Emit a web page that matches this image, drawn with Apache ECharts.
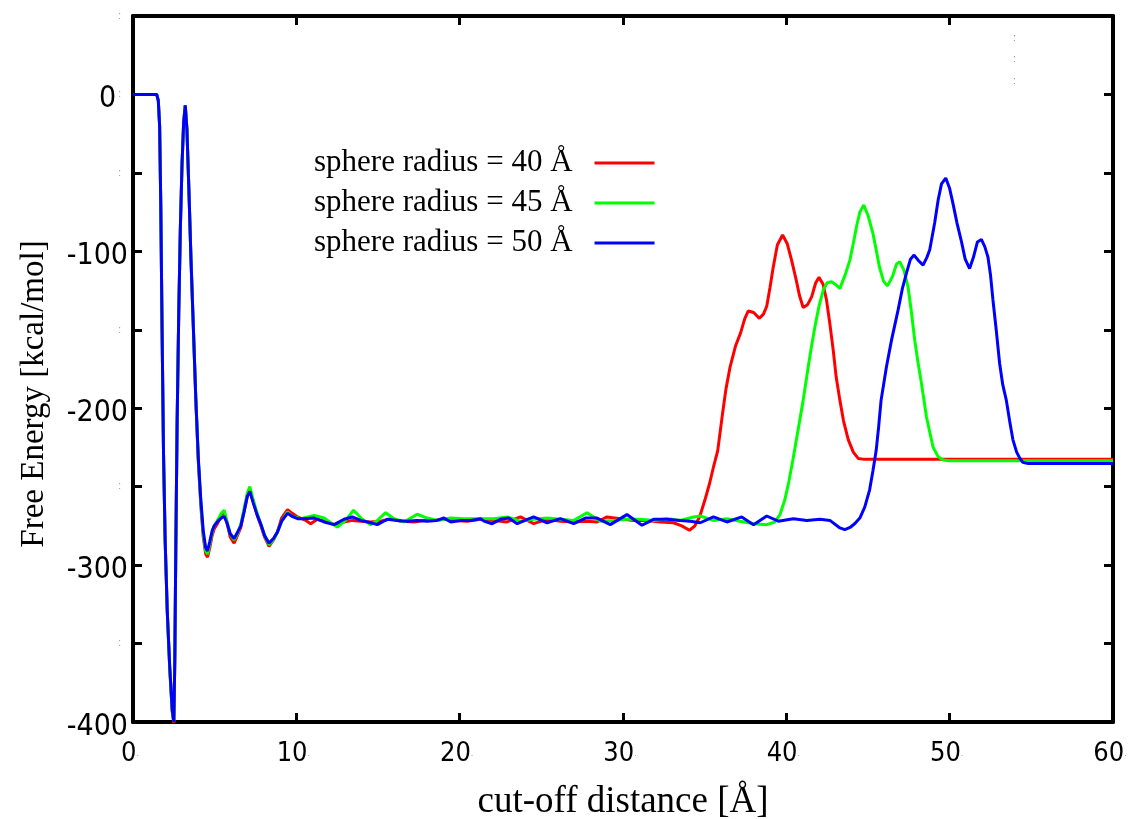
<!DOCTYPE html>
<html><head><meta charset="utf-8">
<script src="https://cdn.jsdelivr.net/npm/echarts@6/dist/echarts.min.js"></script>
<style>html,body{margin:0;padding:0;background:#fff}#c{width:1133px;height:819px}</style>
</head><body><div id="c"></div>
<script>
const seriesNames = ['sphere radius = 40 Å', 'sphere radius = 45 Å', 'sphere radius = 50 Å'];
const seriesColors = ['#ff0000', '#00ff00', '#0000ff'];
const xTickLabels = ['0', '10', '20', '30', '40', '50', '60'];
const yTickLabels = ['0', '-100', '-200', '-300', '-400'];

const red40 = [
  [0,0],[1.45,0],[1.55,-4],[1.63,-20],[1.7,-70],[1.78,-150],[1.87,-230],[1.97,-285],[2.1,-330],[2.25,-366],[2.4,-393],[2.5,-401],
  [2.56,-360],[2.62,-290],[2.7,-210],[2.8,-140],[2.9,-85],[3.0,-45],[3.1,-18],[3.2,-7],[3.3,-22],[3.42,-60],[3.55,-105],[3.7,-150],
  [3.85,-196],[4.0,-234],[4.15,-262],[4.3,-282],[4.45,-293],[4.56,-295],[4.7,-289],[4.85,-281],[4.97,-277],[5.2,-273],[5.4,-268],
  [5.58,-266],[5.75,-273],[5.95,-282],[6.19,-286],[6.4,-281],[6.6,-276],[6.8,-266],[7.0,-256],[7.15,-252],[7.35,-259],[7.6,-268],
  [7.83,-275],[8.05,-282],[8.33,-288],[8.6,-284],[8.84,-279],[9.1,-270],[9.46,-264.7],[9.75,-267],[10.07,-269.3],[10.58,-271.5],
  [10.88,-273.6],[11.29,-270.8],[11.9,-272.5],[12.41,-274.6],[12.92,-272.5],[13.43,-271.5],[13.94,-272],[14.55,-272.5],[15.16,-272],
  [15.78,-270.4],[16.39,-272],[17.2,-272.5],[17.81,-271.5],[18.43,-271.5],[19.04,-270.8],[19.65,-271.5],[20.46,-272],[21.28,-270.8],
  [22.1,-271.5],[22.9,-272.5],[23.72,-269.3],[24.53,-273.6],[25.35,-270.8],[26.17,-272],[26.98,-272.5],[27.8,-272],[28.41,-272.5],
  [29.02,-269.3],[29.83,-270.4],[30.65,-271.5],[31.46,-271.5],[32.28,-272.5],[33.09,-273],[33.6,-275],[34.07,-277.8],[34.4,-275],
  [34.7,-269],[35.0,-259],[35.3,-248],[35.55,-237],[35.8,-227],[36.1,-203],[36.3,-188],[36.55,-174],[36.9,-160],[37.2,-152],
  [37.45,-143],[37.67,-138],[38.0,-139],[38.35,-142.7],[38.6,-140],[38.8,-135],[39.0,-123],[39.2,-110],[39.45,-96],[39.77,-89.6],
  [40.05,-95],[40.32,-105.6],[40.6,-118],[40.8,-128],[41.03,-135.8],[41.3,-134],[41.55,-129],[41.8,-120],[42.0,-116.6],[42.25,-121],
  [42.46,-131],[42.65,-145],[42.87,-163],[43.05,-180],[43.28,-195],[43.5,-208],[43.79,-220],[44.1,-228],[44.4,-232],[44.8,-232.6],
  [60,-232.6]
];

const green45 = [
  [0,0],[1.45,0],[1.55,-4],[1.63,-20],[1.7,-70],[1.78,-150],[1.87,-230],[1.97,-285],[2.1,-330],[2.25,-366],[2.4,-393],[2.5,-400],
  [2.56,-360],[2.62,-290],[2.7,-210],[2.8,-140],[2.9,-85],[3.0,-45],[3.1,-18],[3.2,-7],[3.3,-22],[3.42,-60],[3.55,-105],[3.7,-150],
  [3.85,-195],[4.0,-233],[4.15,-260],[4.3,-280],[4.45,-291],[4.56,-293],[4.7,-287],[4.85,-279],[4.97,-275],[5.2,-271],[5.4,-267],
  [5.58,-265],[5.75,-272],[5.95,-280],[6.19,-284],[6.4,-280],[6.6,-274],[6.8,-264],[7.0,-254],[7.15,-250],[7.35,-258],[7.6,-267],
  [7.83,-274],[8.05,-281],[8.33,-287],[8.6,-284],[8.84,-279],[9.1,-272],[9.46,-266],[9.75,-269],[10.27,-270.4],[11.09,-268.3],
  [11.7,-270],[12.1,-273],[12.51,-275.7],[13.02,-271.5],[13.5,-265],[14.04,-270.8],[14.55,-274.2],[14.96,-271.5],[15.47,-266.6],
  [15.98,-270.4],[16.59,-272.5],[17.4,-267.6],[18.02,-270],[18.63,-271.5],[19.45,-270],[20.26,-270.4],[21.07,-270.4],[22.1,-270.4],
  [22.9,-269.3],[23.72,-272],[24.53,-270.8],[25.35,-270],[26.17,-270.8],[26.98,-271.5],[27.8,-266.6],[28.61,-272],[29.43,-271.5],
  [30.24,-270.8],[31.06,-270.8],[31.87,-271.5],[32.69,-270.4],[33.5,-271.5],[34.32,-269.3],[34.73,-268.7],[35.54,-271.5],
  [36.36,-270.4],[37.17,-272],[37.99,-273.6],[38.8,-274.2],[39.3,-272.5],[39.6,-268],[39.9,-258.7],[40.15,-247],[40.4,-233],
  [40.7,-215],[41.03,-195],[41.34,-173.6],[41.55,-160],[41.75,-148],[42.0,-135],[42.26,-124.7],[42.5,-120],[42.77,-119.4],
  [43.0,-121],[43.28,-123.6],[43.6,-115],[43.89,-105.6],[44.1,-95],[44.3,-84],[44.5,-75],[44.74,-70.5],[45.0,-77],[45.3,-88.5],
  [45.5,-99],[45.7,-110],[45.95,-119],[46.19,-122],[46.5,-116],[46.75,-108],[46.94,-106.6],[47.2,-112],[47.45,-122.6],[47.65,-138],
  [47.86,-156.6],[48.05,-170],[48.27,-184],[48.58,-205.6],[48.98,-224.7],[49.3,-231],[49.6,-233],[50.0,-233.5],[60,-233.5]
];

const blue50 = [
  [0,0],[1.45,0],[1.55,-4],[1.63,-20],[1.7,-70],[1.78,-150],[1.87,-230],[1.97,-285],[2.1,-330],[2.25,-365],[2.4,-392],[2.5,-400],
  [2.56,-360],[2.62,-290],[2.7,-210],[2.8,-140],[2.9,-85],[3.0,-45],[3.1,-18],[3.2,-7],[3.3,-22],[3.42,-60],[3.55,-105],[3.7,-150],
  [3.85,-195],[4.0,-232],[4.15,-258],[4.3,-278],[4.45,-289],[4.56,-291],[4.7,-285],[4.85,-278],[4.97,-275],[5.2,-272],[5.4,-270],
  [5.58,-269],[5.75,-273],[5.95,-280],[6.19,-283],[6.4,-279],[6.6,-275],[6.8,-266],[7.0,-256],[7.15,-253],[7.35,-260],[7.6,-268],
  [7.83,-274],[8.05,-281],[8.33,-286],[8.6,-283],[8.84,-279],[9.1,-272],[9.46,-267],[9.75,-269],[10.07,-270.4],[10.48,-270.4],
  [11.09,-270],[11.7,-272.5],[12.31,-274.2],[12.92,-270.8],[13.43,-269.3],[13.94,-271.5],[14.55,-273],[14.96,-274.2],[15.57,-270.8],
  [16.18,-271.5],[16.8,-272.1],[17.4,-271.5],[18.0,-272.1],[18.6,-271.5],[19.04,-270],[19.45,-272.5],[20.06,-271.5],[20.67,-271.5],
  [21.28,-270.4],[21.48,-272],[21.99,-273.6],[22.5,-270.8],[23.01,-270],[23.52,-273.6],[24.0,-271.5],[24.53,-269.3],[25.35,-273],
  [26.17,-270.4],[26.98,-273.6],[27.7,-270],[28.41,-270],[29.22,-274.2],[30.24,-267.8],[31.16,-274.6],[31.87,-270.8],[32.69,-270.8],
  [33.5,-271.5],[34.11,-272],[34.73,-273],[35.54,-269.3],[36.36,-272.5],[37.27,-269.3],[37.99,-274.2],[38.8,-268.7],[39.51,-272],
  [40.43,-270.4],[41.25,-271.5],[42.06,-270.8],[42.67,-271.5],[43.28,-276.3],[43.58,-277.4],[43.9,-276],[44.2,-273.5],[44.5,-270],
  [44.8,-263],[45.1,-252],[45.3,-240],[45.5,-227],[45.65,-212],[45.8,-195],[46.13,-173.6],[46.44,-156.6],[46.84,-137.5],[47.1,-124],
  [47.35,-114],[47.6,-105],[47.82,-102.4],[48.1,-106],[48.37,-108.8],[48.6,-104],[48.78,-99],[49.08,-82],[49.3,-67],[49.5,-57],
  [49.76,-53.3],[50.0,-60],[50.2,-69.4],[50.45,-82],[50.7,-92.8],[50.95,-105],[51.22,-111],[51.45,-104],[51.7,-94],[51.94,-92.4],
  [52.15,-97],[52.34,-103.5],[52.5,-115],[52.65,-131],[52.85,-150],[53.06,-171.5],[53.25,-185],[53.47,-195],[53.67,-208],
  [53.87,-220],[54.1,-228],[54.3,-232],[54.48,-234.5],[54.8,-235.3],[60,-235.3]
];

const seriesData = [red40, green45, blue50];
const numFont = '"DejaVu Sans Condensed", "DejaVu Sans", sans-serif';
const serifFont = '"Liberation Serif", "Times New Roman", serif';

const axisLineStyle = { color: '#000', width: 4 };
const tickStyle = { show: true, inside: true, length: 9, lineStyle: { color: '#000', width: 3 } };

function xAxisCfg(pos, showLabel) {
  return {
    type: 'value', position: pos, min: 0, max: 60, interval: 10,
    axisLine: { show: true, onZero: false, lineStyle: axisLineStyle },
    axisTick: tickStyle,
    splitLine: { show: false },
    axisLabel: showLabel ? {
      show: true, margin: 18,
      formatter: function (v) {
        const i = Math.round(v / 10);
        return '{n|' + xTickLabels[i] + '}{d|.}';
      },
      rich: {
        n: { fontFamily: numFont, fontSize: 27, color: '#000' },
        d: { fontSize: 9, color: '#999', padding: [0, 6, 0, 0] }
      }
    } : { show: false }
  };
}
function yAxisCfg(pos, showLabel) {
  return {
    type: 'value', position: pos, min: -400, max: 50, interval: 50,
    axisLine: { show: true, onZero: false, lineStyle: axisLineStyle },
    axisTick: tickStyle,
    splitLine: { show: false },
    axisLabel: showLabel ? {
      show: true, margin: 5,
      formatter: function (v) {
        if (v <= 0 && Math.round(v) % 100 === 0) {
          const lab = yTickLabels[Math.round(-v / 100)];
          return lab === '0' ? '{n|0}{d|:}' : '{n|' + lab + '}';
        }
        return '{d|:}';
      },
      rich: {
        n: { fontFamily: numFont, fontSize: 30, color: '#000', padding: [10, 0, 0, 0] },
        d: { fontSize: 10, color: '#999', padding: [0, 7, 0, 2] }
      }
    } : { show: false }
  };
}

const xMain = xAxisCfg('bottom', true);
xMain.name = 'cut-off distance [Å]';
xMain.nameLocation = 'middle';
xMain.nameGap = 62;
xMain.nameTextStyle = { fontFamily: serifFont, fontSize: 37, color: '#000' };
const yMain = yAxisCfg('left', true);
yMain.name = 'Free Energy [kcal/mol]';
yMain.nameLocation = 'middle';
yMain.nameGap = 82;
yMain.nameTextStyle = { fontFamily: serifFont, fontSize: 33, color: '#000', padding: [0, 50, 0, 0] };

const chart = echarts.init(document.getElementById('c'), null, { renderer: 'canvas' });
chart.setOption({
  animation: false,
  backgroundColor: '#fff',
  grid: { left: 133, right: 20, top: 16, bottom: 97, containLabel: false, outerBoundsMode: 'none' },
  xAxis: [xMain, xAxisCfg('top', false)],
  yAxis: [yMain, yAxisCfg('right', false)],
  legend: {
    data: seriesNames,
    orient: 'vertical', left: 309, top: 141, align: 'right',
    icon: 'rect', itemWidth: 60, itemHeight: 3, itemGap: 6,
    textStyle: { fontFamily: serifFont, fontSize: 31, color: '#000', lineHeight: 34, padding: [0, 17, 0, 0] }
  },
  graphic: [
    { type: 'text', left: 1013, top: 33, style: { text: ':', fontSize: 10, fill: '#888' } },
    { type: 'text', left: 1013, top: 54, style: { text: ':', fontSize: 10, fill: '#888' } },
    { type: 'text', left: 1013, top: 76, style: { text: ':', fontSize: 10, fill: '#888' } }
  ],
  series: seriesNames.map(function (name, i) {
    return {
      name: name, type: 'line', xAxisIndex: 0, yAxisIndex: 0,
      data: seriesData[i], showSymbol: false, symbol: 'none', smooth: false,
      color: seriesColors[i],
      lineStyle: { color: seriesColors[i], width: 3 },
      z: 2 + i
    };
  })
});
</script></body></html>
